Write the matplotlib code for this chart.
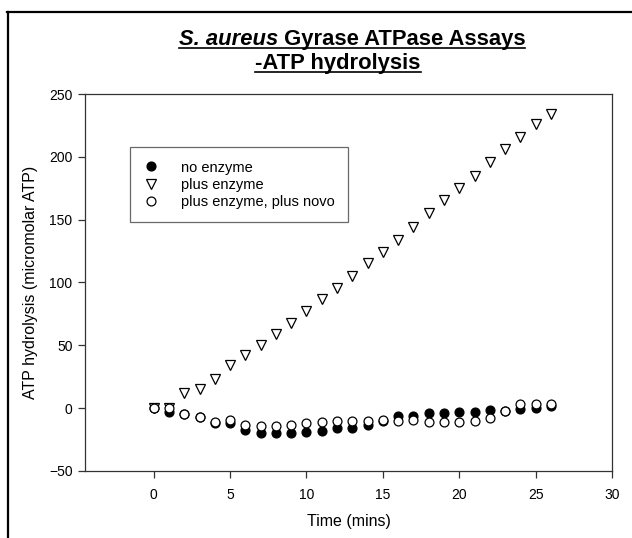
import matplotlib
matplotlib.use("Agg")
import matplotlib.pyplot as plt
from matplotlib.lines import Line2D

plt.rcParams['font.family'] = ['Liberation Sans', 'DejaVu Sans']

# time points (mins)
time = list(range(0, 27))

no_enzyme = [0, -3, -5, -7, -12, -12, -17.5, -19.5, -20, -20, -19, -18.5, -16, -15.5, -13.5,
             -10, -6.5, -6.5, -4, -4, -3, -3, -1.5, -2, -0.5, 0, 1.5]
plus_enzyme = [0, 0, 12, 15.5, 23.5, 34, 42, 50.5, 59, 67.5, 77, 86.5, 95.5, 105, 115.5,
               124.5, 134, 144.5, 155, 165.5, 175.5, 185, 195.5, 206, 216, 226, 234]
plus_novo = [0, 0, -5, -7, -11, -9.5, -13, -14.5, -14, -13, -11.5, -11, -10.5, -10.5, -10.5,
             -9.5, -10.5, -9.5, -11, -11, -11, -10.5, -7.5, -2.5, 3.5, 3.5, 3]

xticks = [0, 5, 10, 15, 20, 25, 30]
yticks = [-50, 0, 50, 100, 150, 200, 250]

W, H = 632, 538
fig = plt.figure(figsize=(W / 100, H / 100), dpi=100)
ax = fig.add_axes([85 / W, 1 - 471 / H, (612 - 85) / W, (471 - 94) / H])

ax.plot(time, no_enzyme, 'o', ms=6.4, mfc='black', mec='black', mew=0.9, label='no enzyme')
ax.plot(time, plus_enzyme, 'v', ms=7.2, mfc='white', mec='black', mew=0.9, label='plus enzyme')
ax.plot(time, plus_novo, 'o', ms=6.4, mfc='white', mec='black', mew=0.9,
        label='plus enzyme, plus novo')

ax.set_xlim(-4.5, 30)
ax.set_ylim(-50, 250)
ax.set_xticks(xticks)
ax.set_yticks(yticks)
ax.tick_params(direction='out', length=5, width=0.9, labelsize=10, colors='#333333',
               labelcolor='black')
ax.tick_params(axis='x', pad=7)
ax.tick_params(axis='y', pad=4)
for s in ax.spines.values():
    s.set_linewidth(0.9)
    s.set_color('#333333')

ax.set_xlabel('Time (mins)', fontsize=11.5)
ax.set_ylabel('ATP hydrolysis (micromolar ATP)', fontsize=11.5)
ax.xaxis.set_label_coords(0.5, -0.115)
ax.yaxis.set_label_coords(-0.09, 0.5)

leg = ax.legend(loc='upper left', bbox_to_anchor=((130 - 85) / 527, (471 - 147) / 377),
                borderaxespad=0, frameon=True, fancybox=False, fontsize=10.5,
                handlelength=1.0, handletextpad=1.55, borderpad=0.93, labelspacing=0.21)
leg.get_frame().set_edgecolor('#444444')
leg.get_frame().set_linewidth(0.9)

# title, two lines, bold + underlined, species name in italics
t1a = fig.text(0, 0, 'S. aureus', fontsize=15.8, fontweight='bold', style='italic')
t1b = fig.text(0, 0, ' Gyrase ATPase Assays', fontsize=15.8, fontweight='bold')
t2 = fig.text(0, 0, '-ATP hydrolysis', fontsize=15.8, fontweight='bold')
fig.canvas.draw()
r = fig.canvas.get_renderer()
wa = t1a.get_window_extent(r).width
wb = t1b.get_window_extent(r).width
w2 = t2.get_window_extent(r).width

cx1, base1 = 352, 45
x0 = cx1 - (wa + wb) / 2
t1a.set_position((x0 / W, 1 - base1 / H))
t1b.set_position(((x0 + wa) / W, 1 - base1 / H))
cx2, base2 = 338, 69
t2.set_position(((cx2 - w2 / 2) / W, 1 - base2 / H))
for t in (t1a, t1b, t2):
    t.set_va('baseline')

fig.add_artist(Line2D([x0 / W, (x0 + wa + wb) / W], [1 - (base1 + 3) / H] * 2,
                      color='black', lw=1.2))
fig.add_artist(Line2D([(cx2 - w2 / 2) / W, (cx2 + w2 / 2) / W], [1 - (base2 + 3) / H] * 2,
                      color='black', lw=1.2))

# outer frame (top and left edges)
fig.add_artist(Line2D([7 / W, 1], [1 - 12 / H] * 2, color='black', lw=1.6))
fig.add_artist(Line2D([8 / W] * 2, [0, 1 - 12 / H], color='black', lw=1.6))

fig.savefig('out.png', dpi=100)
